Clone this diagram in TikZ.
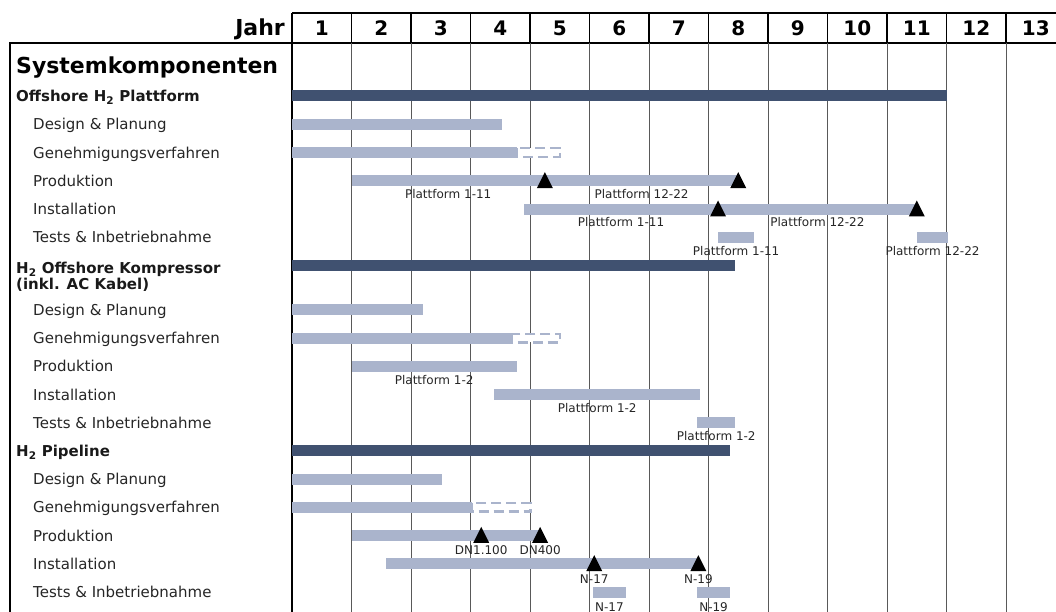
\documentclass[tikz,border=0pt]{standalone}
\usepackage{fontspec}
\setmainfont{DejaVu Sans}
\definecolor{phaselight}{RGB}{170,180,204}
\definecolor{phasedark}{RGB}{64,81,112}

\begin{document}
\begin{tikzpicture}[x=1pt,y=-1pt,
    gridline/.style={black!65,line width=1pt},
    hdrline/.style={black,line width=1.8pt},
    grouptitle/.style={anchor=base west,inner sep=0pt,font=\bfseries\fontsize{15}{13}\selectfont,text=black!90},
    tasklabel/.style={anchor=base west,inner sep=0pt,font=\fontsize{15}{18}\selectfont,text=black!85},
    barlabel/.style={anchor=base,inner sep=0pt,font=\fontsize{12}{14}\selectfont,text=black!85},
    yearlabel/.style={anchor=base,inner sep=0pt,font=\bfseries\fontsize{20}{24}\selectfont},
    groupbar/.style={fill=phasedark},
    taskbar/.style={fill=phaselight},
    openbar/.style={draw=phaselight,fill=white,line width=2.4pt,dash pattern=on 10pt off 5pt},
    milestone/.pic={\fill[black] (-0.1345,7.3) -- (0.1345,7.3) -- (0,-8.7) -- cycle;}]
            \useasboundingbox (0,0) rectangle (1056,612);
            \clip (0,0) rectangle (1056,612);
            \node[anchor=base east,inner sep=0pt,font=\bfseries\fontsize{22}{26}\selectfont] (jahr) at (285,35.5) {Jahr};
            \node[anchor=base west,inner sep=0pt,font=\bfseries\fontsize{22}{26}\selectfont] (syskomp) at (16,73.3) {Systemkomponenten};
            \draw[hdrline] (10,620) -- (10,43) -- (1060,43);

            % labels left
            \node[grouptitle] (gplatt) at (16,101.5) {Offshore H\textsubscript{2} Plattform};
            \node[grouptitle,anchor=north west,align=left] (gkomp) at (16,262) {H\textsubscript{2} Offshore Kompressor\\(inkl. AC Kabel)};
            \node[grouptitle] (gpipe) at (16,456.3) {H\textsubscript{2} Pipeline};
            \foreach \grp/\y in {p/124.3, k/309.7, l/479}
                \foreach \txt [count=\k] in {Design \& Planung, Genehmigungsverfahren, Produktion, Installation, Tests \& Inbetriebnahme}
                    \node[tasklabel] (\grp\k) at (33,\y+28.3*\k-22.8) {\txt};

            \begin{scope}[shift={(292,0)},x=59.5pt]
            \foreach \i in {1,...,13} \draw[gridline] (\i,43) -- (\i,620);
            \foreach \i in {0,...,13} \draw[hdrline] (\i,13) -- (\i,43);
            \draw[hdrline] (0,13) -- (13.2,13);
            \draw[hdrline] (0,43) -- (0,620);
            \foreach \i in {1,...,13} \node[yearlabel] (yr\i) at (\i-0.5,35.5) {\i};

            % bars
            \foreach \e/\y in {11/96, 7.45/265.8, 7.36/450.8}
                \fill[groupbar] (0,\y-5.5) rectangle (\e,\y+5.5);
            \foreach \s/\e/\y in {0/3.53/124.3, 0/3.78/152.6, 1/7.5/180.9, 3.9/10.5/209.2, 7.16/7.77/237.5, 10.5/11.03/237.5,
                0/2.2/309.7, 0/3.69/338, 1/3.78/366.3, 3.4/6.86/394.6, 6.81/7.45/422.9,
                0/2.52/479, 0/3.03/507.3, 1/4.17/535.6, 1.58/6.83/563.9, 5.06/5.61/592.2, 6.81/7.36/592.2}
                \fill[taskbar] (\s,\y-5.5) rectangle (\e,\y+5.5);
            \foreach \s/\e/\y in {3.78/4.52/152.6, 3.69/4.52/338, 3.03/4.03/507.3}
                \draw[openbar] (\s,\y-4.3) rectangle (\e-0.02,\y+4.3);

            % milestones
            \foreach \m/\y in {4.25/180.9, 7.5/180.9, 7.16/209.2, 10.5/209.2, 3.18/535.6, 4.17/535.6, 5.08/563.9, 6.83/563.9}
                \pic at (\m,\y) {milestone};
            \foreach \x/\y/\txt [count=\n] in {2.625/198.4/Plattform 1-11, 5.875/198.4/Plattform 12-22,
                5.53/226.7/Plattform 1-11, 8.83/226.7/Plattform 12-22, 7.465/255/Plattform 1-11, 10.765/255/Plattform 12-22,
                2.39/384/Plattform 1-2, 5.13/412/Plattform 1-2, 7.13/440/Plattform 1-2,
                3.18/554.5/DN1.100, 4.17/554.5/DN400, 5.08/583.3/N-17, 6.83/583.3/N-19, 5.335/611/N-17, 7.085/611/N-19}
                \node[barlabel] (bl\n) at (\x,\y) {\txt};
            \end{scope}
        \end{tikzpicture}
\end{document}
